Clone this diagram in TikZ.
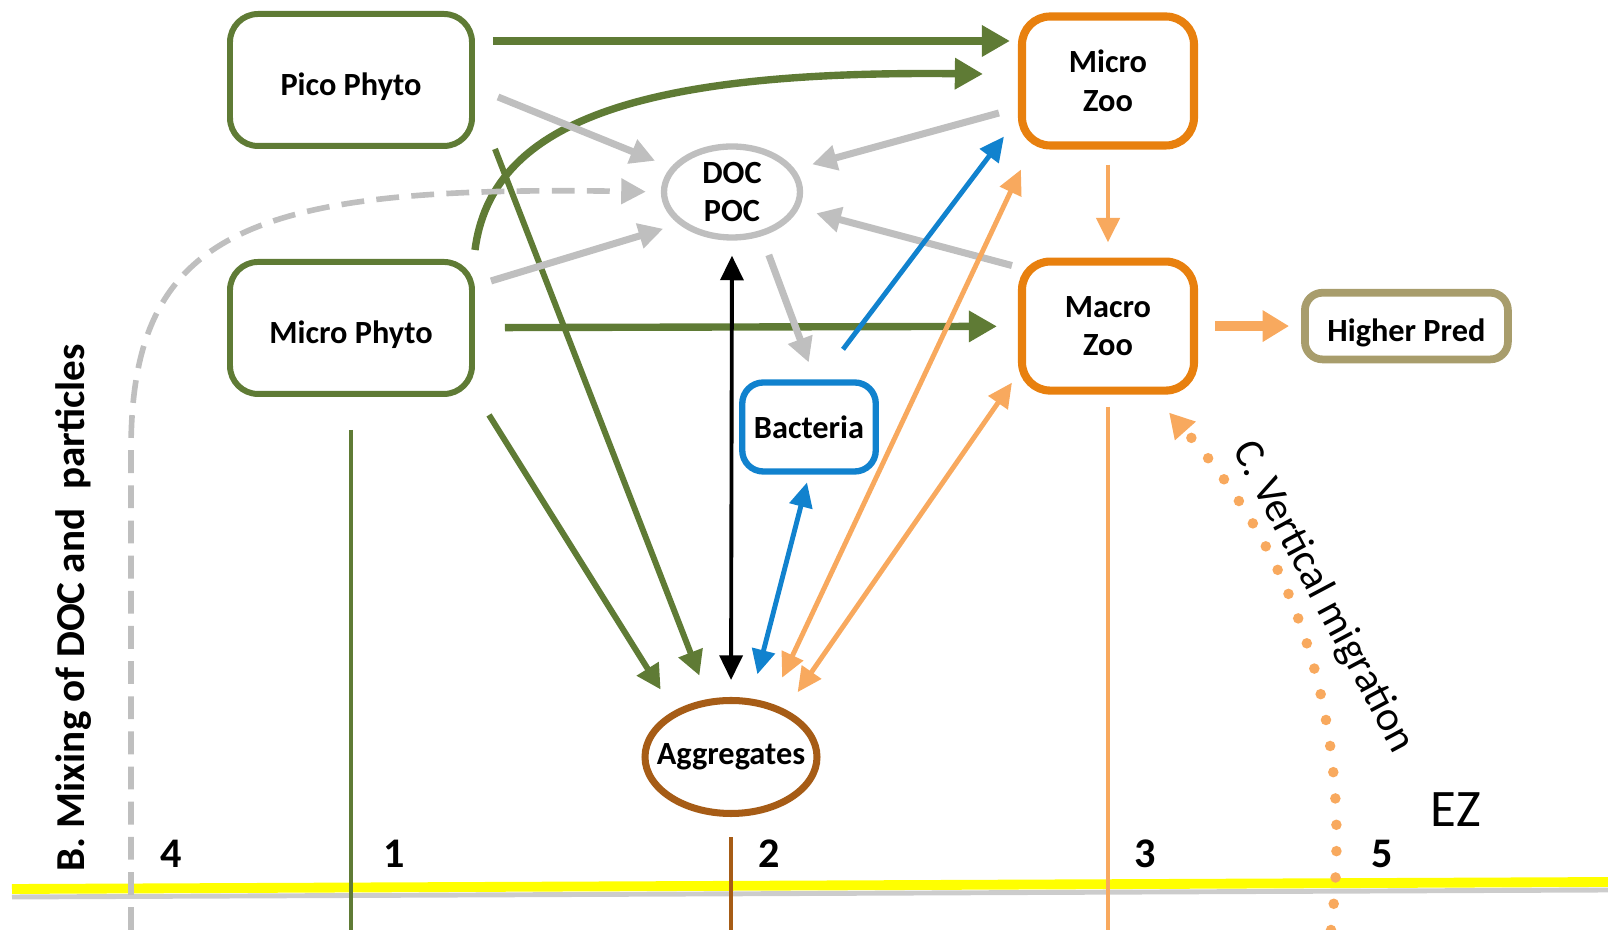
\documentclass[tikz,border=0pt]{standalone}
\usepackage{fontspec}
\setmainfont{Carlito}
\usepackage{tikz}
\usetikzlibrary{arrows.meta, positioning, shapes.geometric, calc}
\definecolor{fwGreen}{HTML}{5F7B35}
\definecolor{fwOrange}{HTML}{E8800E}
\definecolor{fwPeach}{HTML}{F8A95E}
\definecolor{fwKhaki}{HTML}{A89D6C}
\definecolor{fwBlue}{HTML}{1182CE}
\definecolor{fwBrown}{HTML}{A65C16}
\definecolor{fwGrey}{HTML}{BFBFBF}
\definecolor{fwYellow}{HTML}{FFFF00}
\tikzset{
  fw-phyto/.style={
    rectangle, rounded corners=8pt, draw=fwGreen, line width=1.7pt,
    fill=white, minimum width=2.42cm, minimum height=1.32cm, align=center,
    text height=10.5pt, text depth=1.8pt
  },
  fw-zoo/.style={
    rectangle, rounded corners=8pt, draw=fwOrange, line width=2.3pt,
    fill=white, minimum width=1.72cm, minimum height=1.29cm, align=center
  },
  fw-pred/.style={
    rectangle, rounded corners=5pt, draw=fwKhaki, line width=2.2pt,
    fill=white, minimum width=2.03cm, minimum height=0.60cm, align=center,
    text height=10.5pt, text depth=1.8pt
  },
  fw-pool/.style={
    ellipse, draw=fwGrey, line width=1.8pt, fill=white, inner sep=0pt,
    minimum width=1.36cm, minimum height=0.91cm, align=center
  },
  fw-bact/.style={
    rectangle, rounded corners=6pt, draw=fwBlue, line width=1.8pt,
    fill=white, minimum width=1.26cm, minimum height=0.89cm, align=center
  },
  fw-aggr/.style={
    ellipse, draw=fwBrown, line width=2pt, fill=white,
    inner xsep=-0.14cm, inner ysep=0pt,
    minimum width=1.72cm, minimum height=1.13cm, align=center
  },
  fw-feed/.style={->, >={Triangle[length=8pt,width=8.5pt]}, line width=2.1pt, draw=fwGreen},
  fw-sink/.style={->, >={Triangle[length=7pt,width=7pt]}, line width=1.7pt, draw=fwGreen},
  fw-loss/.style={->, >={Triangle[length=7pt,width=7pt]}, line width=2pt, draw=fwGrey},
  fw-bflow/.style={->, >={Triangle[length=7pt,width=6.5pt]}, line width=1.4pt, draw=fwBlue},
  fw-zflow/.style={->, >={Triangle[length=7pt,width=6.5pt]}, line width=1.4pt, draw=fwPeach},
  fw-exch/.style={->, >={Triangle[length=7pt,width=6.5pt]}, line width=1.1pt, draw=black},
  fw-num/.style={font=\fontsize{12}{14}\selectfont\bfseries},
}

\begin{document}
\begin{tikzpicture}[font=\fontsize{9.2}{11}\selectfont\bfseries]
  \useasboundingbox (0,0) rectangle (16.08,9.30);
  \coordinate (bot) at (0,0);
  \coordinate (mixbot) at (1.31,0);
  \coordinate (migbot) at (13.31,0);

  % euphotic zone boundary
  \draw[line width=1.4pt, fwGrey!80] (0.12,0.33) -- (16.08,0.40);
  \draw[line width=2.8pt, fwYellow] (0.12,0.41) -- (16.08,0.48);

  \node[fw-phyto] (pico) at (3.51,8.50) {Pico Phyto};
  \node[fw-phyto, below=1.10cm of pico] (mphyto) {Micro Phyto};
  \node[fw-zoo] (mzoo) at (11.08,8.49) {Micro\\Zoo};
  \node[fw-zoo, below=1.08cm of mzoo] (macz) {Macro\\Zoo};
  \node[fw-pred, right=1.03cm of macz] (hpred) {Higher Pred};
  \node[fw-pool] (doc) at (7.32,7.38) {DOC\\POC};
  \node[fw-bact] (bact) at (8.09,5.03) {Bacteria};
  \node[fw-aggr] (aggr) at (7.31,1.73) {Aggregates};

  % phytoplankton
  \draw[fw-feed, shorten <=0.18cm, shorten >=0.08cm]
    ([yshift=0.39cm]pico.east) -- ([yshift=0.40cm]mzoo.west);
  \draw[fw-feed]
    ([yshift=0.09cm]mphyto.north east) .. controls +(0.16,1.24) and +(-3.54,0.04)
    .. ([xshift=-0.35cm,yshift=0.07cm]mzoo.west);
  \draw[fw-feed, shorten <=0.3cm, shorten >=0.21cm] (mphyto) -- (macz);
  \draw[fw-sink, shorten >=0.25cm] ([xshift=0.2cm]pico.south east) -- (aggr);
  \draw[fw-sink, shorten >=0.25cm]
    ([xshift=0.14cm,yshift=-0.18cm]mphyto.south east) -- (aggr.141);
  \draw[fwGreen, line width=1.3pt] ([yshift=-0.33cm]mphyto.south) -- (mphyto.south |- bot);

  % dissolved and particulate pool
  \draw[fw-loss, shorten >=0.17cm] ([xshift=0.23cm,yshift=-0.17cm]pico.east) -- (doc);
  \draw[fw-loss, shorten >=0.16cm] ([xshift=0.16cm,yshift=0.47cm]mphyto.east) -- (doc.211);
  \draw[fw-loss, shorten >=0.18cm] ([xshift=-0.19cm,yshift=-0.32cm]mzoo.west) -- (doc.20);
  \draw[fw-loss, shorten >=0.18cm] ([xshift=-0.06cm,yshift=-0.08cm]macz.north west) -- (doc.-14);
  \draw[fw-loss, shorten <=0.2cm, shorten >=0.18cm] (doc.-56) -- ([xshift=0.06cm]bact.north);
  \draw[fw-loss, line width=1.6pt, dash pattern=on 6.5pt off 3.5pt, shorten >=0.15cm]
    (mixbot) -- ++(0,4.8) .. controls (1.31,7.0) and (2.5,7.45) .. (doc.west);
  \draw[fw-exch, <->, shorten <=0.15cm, shorten >=0.17cm] (doc.south) -- (aggr.north);

  % bacteria
  \draw[fw-bflow] ([xshift=0.34cm,yshift=0.30cm]bact.north)
    -- ([xshift=-0.14cm,yshift=0.13cm]mzoo.south west);
  \draw[fw-bflow, <->, shorten <=0.08cm, shorten >=0.25cm] (bact.south) -- (aggr.71);

  % zooplankton
  \draw[fw-zflow, <->, shorten <=0.28cm] (aggr.54) -- ([xshift=0.03cm,yshift=-0.2cm]mzoo.south west);
  \draw[fw-zflow, <->, shorten <=0.21cm] (aggr.41) -- ([xshift=-0.06cm,yshift=0.12cm]macz.south west);
  \draw[fw-zflow, shorten <=0.15cm, shorten >=0.15cm] (mzoo) -- (macz);
  \draw[fw-zflow, line width=2.8pt, >={Triangle[length=7.5pt,width=8.5pt]},
    shorten <=0.17cm, shorten >=0.12cm] (macz) -- (hpred);
  \draw[fwPeach, line width=1.1pt] ([yshift=-0.12cm]macz.south) -- (macz.south |- bot);
  \draw[fwPeach, line width=3pt, line cap=round, dash pattern=on 0pt off 7.5pt,
    -{Triangle[length=7pt,width=7.5pt]}]
    (migbot) .. controls (13.55,2.0) and (13.0,3.7) .. ([xshift=-0.29cm,yshift=-0.18cm]macz.south east);
  \draw[fwBrown, line width=1.3pt, shorten <=0.2cm] (aggr.south) -- (aggr.south |- bot);

  \node[rotate=90, font=\fontsize{11.7}{14}\selectfont\bfseries] (mixlbl)
    at (0.74,3.22) {B. Mixing of DOC and~ particles};
  \node[rotate=-62, font=\fontsize{12}{14}\selectfont] (miglbl) at (13.23,3.33) {C. Vertical migration};
  \node[font=\fontsize{15}{18}\selectfont] (ez) at (14.56,1.20) {EZ};
  \foreach \n/\x in {4/1.71, 1/3.94, 2/7.69, 3/11.45, 5/13.82}
    \node[fw-num] (lay\n) at (\x,0.76) {\n};
\end{tikzpicture}
\end{document}
